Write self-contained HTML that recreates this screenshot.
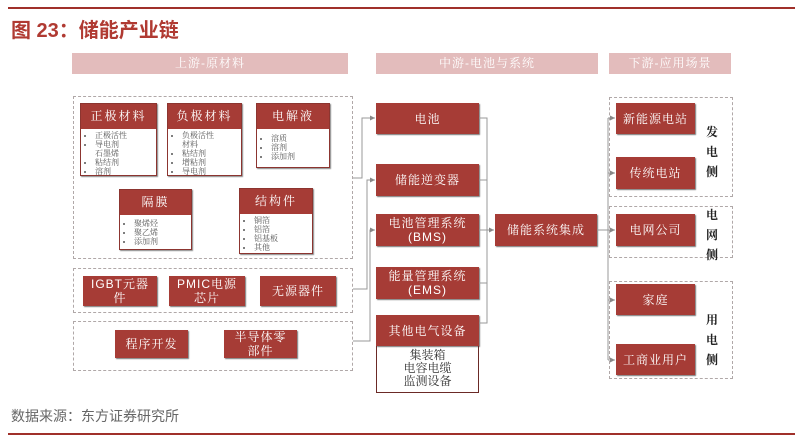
<!DOCTYPE html>
<html><head><meta charset="utf-8"><style>
body{margin:0;width:800px;height:441px;background:#fff;position:relative;overflow:hidden;font-family:"Liberation Sans","Noto Serif CJK SC","Noto Sans CJK SC",serif}
.a{position:absolute;box-sizing:border-box}
.hd{background:#e3bcbc;color:#fff;font-size:12px;text-align:center;line-height:21px;letter-spacing:1px}
.dash{border:1.5px dashed #b0a8a8}
.r{background:#a63c36;color:#fff;font-size:12px;text-align:center;display:flex;align-items:center;justify-content:center;line-height:14px;box-shadow:1px 1px 1px #777;letter-spacing:1px}
.card{border:1.5px solid #8c3530;background:#fff;box-shadow:1px 1px 1px #888;overflow:hidden}
.card .h{background:#a63c36;color:#fff;font-size:12px;text-align:center;height:25px;line-height:25px;letter-spacing:2px}
.card ul{margin:2px 0 0 0;padding-left:14px;font-size:8px;line-height:9px;color:#555}
.side{font-size:12px;font-weight:bold;color:#222;line-height:20px;width:14px;text-align:center}
</style></head><body>
<div class="a" style="left:8px;top:7px;width:787px;height:2px;background:#a0302a"></div>
<div class="a" style="left:11px;top:14px;font-size:20px;font-weight:bold;color:#b03a32;font-family:'Liberation Sans','Noto Sans CJK SC',sans-serif">图 23：储能产业链</div>
<div class="a hd" style="left:72px;top:53px;width:276px;height:21px">上游-原材料</div>
<div class="a hd" style="left:376px;top:53px;width:222px;height:21px">中游-电池与系统</div>
<div class="a hd" style="left:609px;top:53px;width:122px;height:21px">下游-应用场景</div>

<div class="a dash" style="left:73px;top:96px;width:280px;height:163px"></div>
<div class="a card" style="left:80px;top:103px;width:77px;height:73px"><div class="h">正极材料</div><ul><li>正极活性</li><li>导电剂</li><li style="list-style:none">石墨烯</li><li>粘结剂</li><li>溶剂</li></ul></div>
<div class="a card" style="left:167px;top:103px;width:75px;height:73px"><div class="h">负极材料</div><ul><li>负极活性</li><li style="list-style:none">材料</li><li>粘结剂</li><li>增粘剂</li><li>导电剂</li></ul></div>
<div class="a card" style="left:256px;top:103px;width:74px;height:65px"><div class="h">电解液</div><ul style="margin-top:5px"><li>溶质</li><li>溶剂</li><li>添加剂</li></ul></div>
<div class="a card" style="left:119px;top:189px;width:73px;height:61px"><div class="h">隔膜</div><ul style="margin-top:4px"><li>聚烯烃</li><li>聚乙烯</li><li>添加剂</li></ul></div>
<div class="a card" style="left:239px;top:188px;width:74px;height:66px"><div class="h">结构件</div><ul><li>铜箔</li><li>铝箔</li><li>铝基板</li><li>其他</li></ul></div>

<div class="a dash" style="left:73px;top:268px;width:280px;height:45px"></div>
<div class="a r" style="left:83px;top:276px;width:74px;height:30px">IGBT元器<br>件</div>
<div class="a r" style="left:169px;top:276px;width:76px;height:30px">PMIC电源<br>芯片</div>
<div class="a r" style="left:260px;top:276px;width:76px;height:30px">无源器件</div>
<div class="a dash" style="left:73px;top:321px;width:280px;height:50px"></div>
<div class="a r" style="left:115px;top:330px;width:73px;height:28px">程序开发</div>
<div class="a r" style="left:224px;top:330px;width:73px;height:28px">半导体零<br>部件</div>

<div class="a r" style="left:376px;top:103px;width:103px;height:31px">电池</div>
<div class="a r" style="left:376px;top:164px;width:103px;height:32px">储能逆变器</div>
<div class="a r" style="left:376px;top:214px;width:103px;height:32px">电池管理系统<br>(BMS)</div>
<div class="a r" style="left:376px;top:267px;width:103px;height:32px">能量管理系统<br>(EMS)</div>
<div class="a r" style="left:376px;top:315px;width:103px;height:31px">其他电气设备</div>
<div class="a" style="left:376px;top:346px;width:103px;height:47px;border:1.5px solid #6b2a26;border-top:none;font-size:12px;line-height:13px;text-align:center;padding-top:3px;color:#333">集装箱<br>电容电缆<br>监测设备</div>
<div class="a r" style="left:495px;top:214px;width:102px;height:32px">储能系统集成</div>

<div class="a dash" style="left:609px;top:97px;width:124px;height:100px"></div>
<div class="a dash" style="left:609px;top:206px;width:124px;height:52px"></div>
<div class="a dash" style="left:609px;top:281px;width:124px;height:98px"></div>
<div class="a r" style="left:616px;top:103px;width:79px;height:31px">新能源电站</div>
<div class="a r" style="left:616px;top:157px;width:79px;height:32px">传统电站</div>
<div class="a r" style="left:616px;top:214px;width:79px;height:32px">电网公司</div>
<div class="a r" style="left:616px;top:284px;width:79px;height:31px">家庭</div>
<div class="a r" style="left:616px;top:344px;width:79px;height:31px">工商业用户</div>
<div class="a side" style="left:705px;top:122px">发<br>电<br>侧</div>
<div class="a side" style="left:705px;top:205px">电<br>网<br>侧</div>
<div class="a side" style="left:705px;top:310px">用<br>电<br>侧</div>

<svg class="a" style="left:0;top:0" width="800" height="441">
<defs><marker id="m" markerWidth="5" markerHeight="5" refX="5" refY="2.5" orient="auto"><path d="M0,0L5,2.5L0,5z" fill="#888"/></marker></defs>
<g stroke="#999" stroke-width="1" fill="none">
<path d="M353,178H362V118H375" marker-end="url(#m)"/>
<path d="M353,289H367V180H375" marker-end="url(#m)"/>
<path d="M353,341H370V230H375" marker-end="url(#m)"/>
<path d="M479,118H487V323H479M479,180H487M479,230H494M479,283H487" />
<path d="M487,230H494" marker-end="url(#m)"/>
<path d="M597,230H608"/>
<path d="M608,118V360"/>
<path d="M608,118H615" marker-end="url(#m)"/>
<path d="M608,173H615" marker-end="url(#m)"/>
<path d="M608,230H615" marker-end="url(#m)"/>
<path d="M608,300H615" marker-end="url(#m)"/>
<path d="M608,360H615" marker-end="url(#m)"/>
</g></svg>

<div class="a" style="left:11px;top:406px;font-size:14px;color:#666;font-family:'Liberation Sans','Noto Sans CJK SC',sans-serif">数据来源：东方证券研究所</div>
<div class="a" style="left:8px;top:433px;width:787px;height:2px;background:#a0302a"></div>
</body></html>
